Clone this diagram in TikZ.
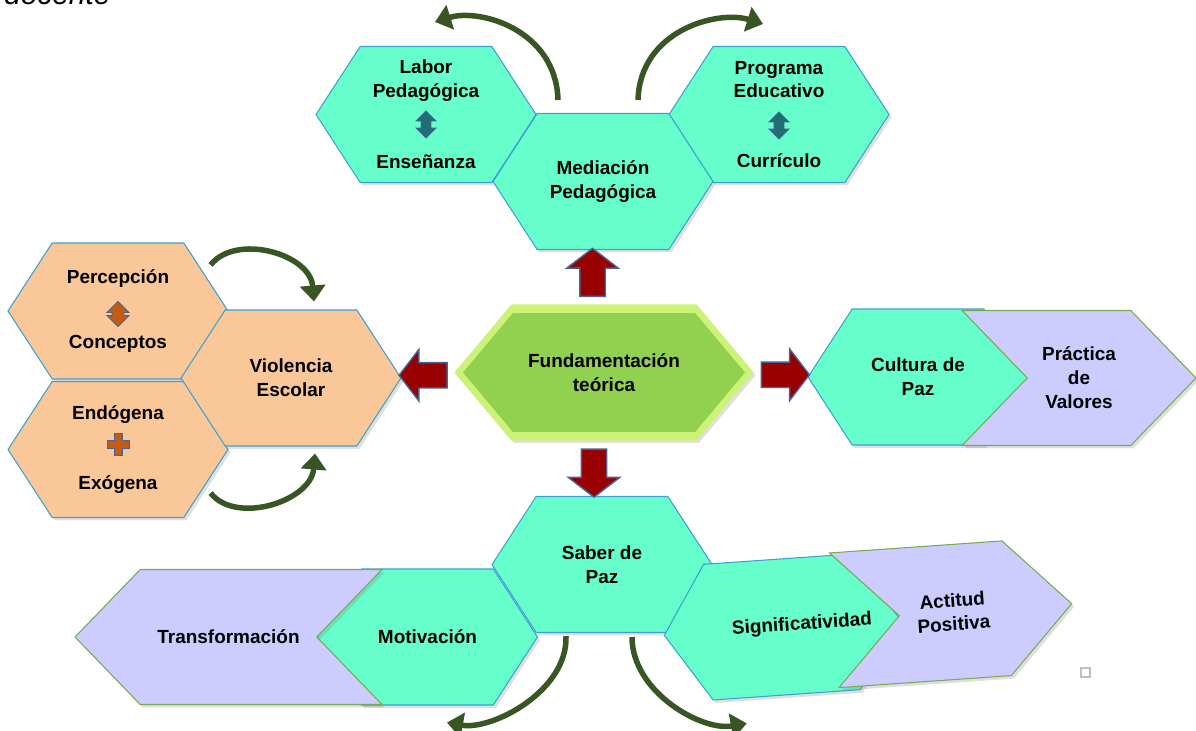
\documentclass[tikz,border=0pt]{standalone}
\usepackage{fontspec}
\setmainfont{Liberation Sans}
\usetikzlibrary{positioning,calc,shapes.symbols,shapes.arrows,arrows.meta,shadows}

\definecolor{mint}{RGB}{102,255,204}
\definecolor{peach}{RGB}{250,200,152}
\definecolor{lila}{RGB}{204,204,255}
\definecolor{hexline}{RGB}{60,160,210}
\definecolor{lilaline}{RGB}{120,170,80}
\definecolor{arrowred}{RGB}{153,0,0}
\definecolor{arrowline}{RGB}{70,100,150}
\definecolor{bevel}{RGB}{204,242,120}
\definecolor{face}{RGB}{146,208,80}
\definecolor{curvegreen}{RGB}{55,86,35}
\definecolor{iconteal}{RGB}{30,110,115}
\definecolor{iconorange}{RGB}{197,90,17}

\begin{document}
\begin{tikzpicture}[x=0.02cm,y=-0.02cm,
	font=\fontsize{10.8}{13.6}\selectfont\bfseries,
	hexnode/.style={signal,signal to=east and west,signal pointer angle=114,
		draw=hexline,line width=0.6pt,minimum width=4.4cm,minimum height=2.72cm,
		inner sep=0pt,align=center,
		drop shadow={opacity=0.25,shadow xshift=0.05cm,shadow yshift=-0.06cm}},
	chevnode/.style={signal,signal pointer angle=92,fill=lila,
		draw=lilaline,line width=0.6pt,minimum height=2.7cm,
		inner sep=0pt,align=center,
		drop shadow={opacity=0.25,shadow xshift=0.05cm,shadow yshift=-0.06cm}},
	redarrow/.style={single arrow,single arrow head extend=0.26cm,
		single arrow tip angle=105,fill=arrowred,draw=arrowline,line width=0.8pt,
		minimum height=0.96cm,inner xsep=0pt,inner ysep=0.24cm},
	twoway/.style={double arrow,double arrow head extend=0.1cm,rotate=90,
		draw=arrowline,line width=0.5pt,minimum height=0.54cm,
		inner xsep=0pt,inner ysep=0.09cm},
	curvy/.style={draw=curvegreen,line width=0.11cm,
		-{Triangle[length=0.32cm,width=0.5cm]}}
	]
	\useasboundingbox (0,0) rectangle (1196,730);

	\node[font=\fontsize{17}{20}\selectfont\itshape,anchor=base west] (docente) at (-2,5) {docente};

	% top group
	\node[hexnode,fill=mint] (labor) at (426,114.5) {Labor\\Pedagógica\\[0.94cm]Enseñanza};
	\node[hexnode,fill=mint] (prog) at (779,114.5) {Programa\\Educativo\\[0.92cm]Currículo};
	\node[hexnode,fill=mint] (med) at (603,181.5) {Mediación\\Pedagógica};
	\node[twoway,fill=iconteal] (laborarr) at ($(labor)+(0,10)$) {};
	\node[twoway,fill=iconteal] (progarr) at ($(prog)+(0,11)$) {};

	% left group
	\node[hexnode,fill=peach] (perc) at (118,311) {Percepción\\[0.84cm]Conceptos};
	\node[hexnode,fill=peach] (endo) at (118,449.5) {Endógena\\[0.94cm]Exógena};
	\node[hexnode,fill=peach] (viol) at (291,378) {Violencia\\Escolar};
	\node[twoway,fill=iconorange,minimum height=0.5cm,inner ysep=0.11cm] (percarr) at ($(perc)+(0,3)$) {};
	\coordinate (plus) at ($(endo)+(0,-5)$);
	\draw[fill=iconorange,draw=arrowline,line width=0.5pt,shift={(plus)}]
		(-4,-11) -- (4,-11) -- (4,-4) -- (11,-4) -- (11,4) -- (4,4) -- (4,11)
		-- (-4,11) -- (-4,4) -- (-11,4) -- (-11,-4) -- (-4,-4) -- cycle;

	% centre
	\node[hexnode,fill=bevel,draw=bevel,signal pointer angle=100,
		minimum width=5.96cm,minimum height=2.7cm] (fund) at (604,372.5) {};
	\node[signal,signal to=east and west,signal pointer angle=100,fill=face,
		minimum width=5.64cm,minimum height=2.38cm,inner sep=0pt,align=center]
		(fundface) at (fund) {Fundamentación\\teórica};

	% right group
	\node[hexnode,fill=mint] (cult) at (918,377) {Cultura de\\Paz};
	\node[chevnode,signal from=west,signal to=east,minimum width=4.68cm] (prac) at (1079,378) {Práctica\\de\\Valores};

	% bottom group
	\node[hexnode,fill=mint] (saber) at (602,564.5) {Saber de\\Paz};
	\node[hexnode,fill=mint] (motiv) at (427.5,637) {Motivación};
	\node[chevnode,signal from=east,signal to=west,minimum width=6.14cm] (transf) at (228.5,637) {Transformación};
	\node[hexnode,fill=mint,rotate=4,minimum width=4.72cm] (signif) at (782,627) {};
	\node[rotate=4] (signiftxt) at (802,625) {Significatividad};
	\node[chevnode,signal from=west,signal to=east,rotate=4,minimum width=4.76cm] (actit) at (953,612) {Actitud\\Positiva};

	% block arrows from the centre
	\node[redarrow,rotate=90] (toup) at ($(fund.north)!0.5!(med.south)+(-11,0)$) {};
	\node[redarrow,rotate=-90] (todown) at ($(fund.south)!0.5!(saber.north)+(-9,0)$) {};
	\node[redarrow,rotate=180] (toleft) at ($(fund.west)!0.5!(viol.east)$) {};
	\node[redarrow] (toright) at ($(fund.east)!0.5!(cult.west)$) {};

	% curved arrows
	\draw[curvy] ($(med.north)+(-45,-13)$) .. controls +(-2,-70) and +(45,-14) .. ($(labor.north)+(9,-24)$);
	\draw[curvy] ($(med.north)+(35,-13)$) .. controls +(2,-70) and +(-45,-14) .. ($(prog.north)+(-16,-22)$);
	\draw[curvy] ($(perc.east)+(-18,-46)$) .. controls +(25,-32) and +(-4,-48) .. ($(viol.north)+(23,-8)$);
	\draw[curvy] ($(endo.east)+(-18,43.5)$) .. controls +(25,32) and +(-4,48) .. ($(viol.south)+(24,7)$);
	\draw[curvy] ($(saber.south)+(-36,3)$) .. controls +(2,55) and +(45,8) .. ($(motiv.south)+(19.5,17)$);
	\draw[curvy] ($(saber.south)+(30,4)$) .. controls +(0,55) and +(-45,8) .. ($(signif.south)+(-40,28)$);

	\draw[gray!50,line width=0.6pt] (1081,668) rectangle (1090,677);
\end{tikzpicture}
\end{document}
